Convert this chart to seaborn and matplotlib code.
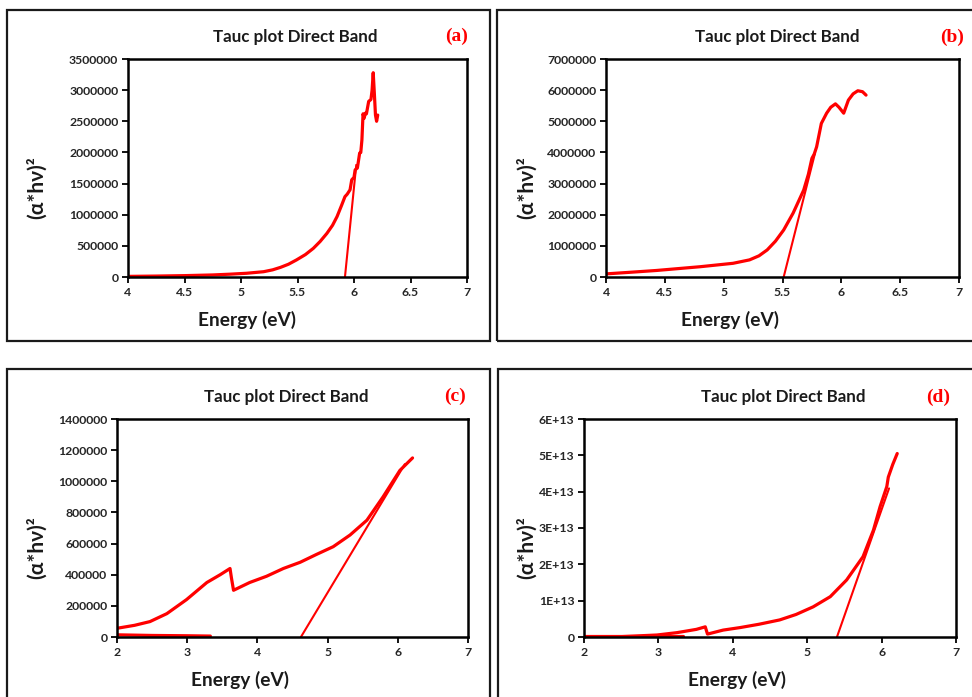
import matplotlib
matplotlib.use("Agg")
import matplotlib.pyplot as plt
from matplotlib.patches import Rectangle
import seaborn as sns
import pandas as pd

sns.set_style("white")
plt.rcParams['font.family'] = ['Lato', 'DejaVu Sans']

# ---------------- data ----------------
panel_tags = ["(a)", "(b)", "(c)", "(d)"]
title_text = "Tauc plot Direct Band"
xlabel_text = "Energy (eV)"
ylabel_text = "(\u03b1*h\u03bd)\u00b2"

# (a)
energy_a = [4.0, 4.25, 4.5, 4.75, 4.9, 5.05, 5.2, 5.28, 5.35, 5.42, 5.49, 5.57, 5.64, 5.7,
            5.76, 5.81, 5.85, 5.89, 5.92, 5.94, 5.965, 5.98, 6.0, 6.01, 6.03, 6.05, 6.06,
            6.07, 6.08, 6.09, 6.10, 6.11, 6.13, 6.15, 6.16, 6.17, 6.18, 6.19, 6.20, 6.21]
value_a = [10000, 15000, 22000, 33000, 45000, 60000, 85000, 115000, 155000, 205000, 273000,
           360000, 460000, 570000, 700000, 830000, 970000, 1150000, 1290000, 1330000,
           1400000, 1560000, 1600000, 1720000, 1750000, 1990000, 2000000, 2200000, 2620000,
           2550000, 2630000, 2620000, 2820000, 2850000, 3000000, 3280000, 2950000, 2600000,
           2500000, 2600000]
fit_x_a = [5.92, 6.02]
fit_y_a = [0, 1800000]
xticks_a = [4, 4.5, 5, 5.5, 6, 6.5, 7]
xlabels_a = ["4", "4.5", "5", "5.5", "6", "6.5", "7"]
yticks_a = [0, 500000, 1000000, 1500000, 2000000, 2500000, 3000000, 3500000]
ylabels_a = ["0", "500000", "1000000", "1500000", "2000000", "2500000", "3000000", "3500000"]

# (b)
energy_b = [4.0, 4.2, 4.43, 4.8, 5.08, 5.22, 5.3, 5.37, 5.44, 5.51, 5.59, 5.68, 5.72, 5.75,
            5.77, 5.79, 5.83, 5.875, 5.91, 5.95, 5.98, 6.02, 6.06, 6.1, 6.14, 6.18, 6.21]
value_b = [100000, 150000, 210000, 330000, 440000, 550000, 680000, 870000, 1150000, 1510000,
           2050000, 2790000, 3300000, 3810000, 3950000, 4180000, 4930000, 5260000, 5450000,
           5560000, 5450000, 5260000, 5680000, 5880000, 5980000, 5950000, 5840000]
fit_x_b = [5.51, 5.776]
fit_y_b = [0, 3970000]
xticks_b = [4, 4.5, 5, 5.5, 6, 6.5, 7]
xlabels_b = ["4", "4.5", "5", "5.5", "6", "6.5", "7"]
yticks_b = [0, 1000000, 2000000, 3000000, 4000000, 5000000, 6000000, 7000000]
ylabels_b = ["0", "1000000", "2000000", "3000000", "4000000", "5000000", "6000000", "7000000"]

# (c)
energy_c = [2.0, 2.25, 2.47, 2.71, 2.99, 3.28, 3.47, 3.61, 3.63, 3.66, 3.89, 4.13, 4.37,
            4.61, 4.84, 5.08, 5.32, 5.56, 5.79, 6.03, 6.21]
value_c = [56000, 75000, 99000, 150000, 240000, 350000, 400000, 440000, 380000, 300000,
           350000, 390000, 440000, 480000, 530000, 580000, 655000, 750000, 900000, 1070000,
           1150000]
base_x_c = [2.0, 2.5, 3.0, 3.33]
base_y_c = [14000, 10000, 8000, 6000]
fit_x_c = [4.62, 6.1]
fit_y_c = [0, 1110000]
xticks_c = [2, 3, 4, 5, 6, 7]
xlabels_c = ["2", "3", "4", "5", "6", "7"]
yticks_c = [0, 200000, 400000, 600000, 800000, 1000000, 1200000, 1400000]
ylabels_c = ["0", "200000", "400000", "600000", "800000", "1000000", "1200000", "1400000"]

# (d)
energy_d = [2.0, 2.5, 2.98, 3.25, 3.51, 3.63, 3.66, 3.87, 4.1, 4.35, 4.63, 4.85, 5.08, 5.31,
            5.53, 5.75, 5.89, 5.98, 6.07, 6.09, 6.15, 6.21]
value_d = [0.0, 0.01e13, 0.055e13, 0.12e13, 0.21e13, 0.28e13, 0.08e13, 0.19e13, 0.26e13,
           0.35e13, 0.47e13, 0.62e13, 0.83e13, 1.11e13, 1.57e13, 2.21e13, 2.94e13, 3.59e13,
           4.14e13, 4.4e13, 4.75e13, 5.05e13]
base_x_d = [2.0, 3.33]
base_y_d = [0.02e13, 0.02e13]
fit_x_d = [5.40, 6.10]
fit_y_d = [0, 4.09e13]
xticks_d = [2, 3, 4, 5, 6, 7]
xlabels_d = ["2", "3", "4", "5", "6", "7"]
yticks_d = [0, 1e13, 2e13, 3e13, 4e13, 5e13, 6e13]
ylabels_d = ["0", "1E+13", "2E+13", "3E+13", "4E+13", "5E+13", "6E+13"]

# ---------------- layout (pixels) ----------------
W, H = 972, 697
fig = plt.figure(figsize=(W / 100, H / 100), dpi=100)

def fx(px):
    return px / W

def fy(py):
    return 1 - py / H

frames = [(7, 10, 490, 341), (497, 10, 975, 341), (7, 369, 490, 700), (498, 369, 975, 700)]
axes_px = [(128, 59, 467, 277), (606, 59, 959, 277), (117, 419, 468, 637), (584, 419, 956, 637)]
title_pos = [(295, 37), (777, 37), (286, 397), (783, 397)]
tag_pos = [(457, 36), (952, 37), (455, 396), (938, 397)]
ylab_pos = [(37, 188), (527, 188), (37, 548), (527, 548)]
xlab_pos = [(247, 320), (730, 320), (240, 680), (737, 680)]

panels = [
    dict(x=energy_a, y=value_a, fx=fit_x_a, fy=fit_y_a, bx=None, by=None,
         xt=xticks_a, xl=xlabels_a, yt=yticks_a, yl=ylabels_a, xlim=(4, 7), ylim=(0, 3500000)),
    dict(x=energy_b, y=value_b, fx=fit_x_b, fy=fit_y_b, bx=None, by=None,
         xt=xticks_b, xl=xlabels_b, yt=yticks_b, yl=ylabels_b, xlim=(4, 7), ylim=(0, 7000000)),
    dict(x=energy_c, y=value_c, fx=fit_x_c, fy=fit_y_c, bx=base_x_c, by=base_y_c,
         xt=xticks_c, xl=xlabels_c, yt=yticks_c, yl=ylabels_c, xlim=(2, 7), ylim=(0, 1400000)),
    dict(x=energy_d, y=value_d, fx=fit_x_d, fy=fit_y_d, bx=base_x_d, by=base_y_d,
         xt=xticks_d, xl=xlabels_d, yt=yticks_d, yl=ylabels_d, xlim=(2, 7), ylim=(0, 6e13)),
]

red = "#FF0000"
for i, p in enumerate(panels):
    x0, y0, x1, y1 = frames[i]
    fig.add_artist(Rectangle((fx(x0), fy(y1)), fx(x1 - x0), (y1 - y0) / H,
                             transform=fig.transFigure, fill=False,
                             edgecolor="#1a1a1a", linewidth=1.6))
    a0, b0, a1, b1 = axes_px[i]
    ax = fig.add_axes([fx(a0), fy(b1), fx(a1 - a0), (b1 - b0) / H])
    df = pd.DataFrame({"E": p["x"], "V": p["y"]})
    sns.lineplot(data=df, x="E", y="V", ax=ax, color=red, linewidth=2.3, sort=False)
    if p["bx"] is not None:
        dfb = pd.DataFrame({"E": p["bx"], "V": p["by"]})
        sns.lineplot(data=dfb, x="E", y="V", ax=ax, color=red, linewidth=2.3, sort=False)
    dff = pd.DataFrame({"E": p["fx"], "V": p["fy"]})
    sns.lineplot(data=dff, x="E", y="V", ax=ax, color=red, linewidth=1.5, sort=False)
    ax.set_xlim(*p["xlim"])
    ax.set_ylim(*p["ylim"])
    ax.set_xticks(p["xt"])
    ax.set_xticklabels(p["xl"], fontsize=8.8, fontweight="bold")
    ax.set_yticks(p["yt"])
    ax.set_yticklabels(p["yl"], fontsize=8.8, fontweight="bold")
    ax.set_xlabel("")
    ax.set_ylabel("")
    ax.tick_params(axis="both", direction="out", length=4, width=1.3, color="black",
                   bottom=True, left=True, pad=3)
    for s in ax.spines.values():
        s.set_visible(True)
        s.set_color("black")
        s.set_linewidth(1.8)
    tx, ty = title_pos[i]
    fig.text(fx(tx), fy(ty), title_text, ha="center", va="center", fontsize=12.2,
             fontweight="bold", color="#1a1a1a")
    gx, gy = tag_pos[i]
    fig.text(fx(gx), fy(gy), panel_tags[i], ha="center", va="center", fontsize=14,
             fontweight="bold", color=red, family=["Liberation Serif", "DejaVu Serif"])
    lx, ly = ylab_pos[i]
    fig.text(fx(lx), fy(ly), ylabel_text, ha="center", va="center", fontsize=15,
             fontweight="bold", rotation=90, color="#1a1a1a")
    xx, xy = xlab_pos[i]
    fig.text(fx(xx), fy(xy), xlabel_text, ha="center", va="center", fontsize=13.8,
             fontweight="bold", color="#1a1a1a")

fig.savefig("out.png", dpi=100)
